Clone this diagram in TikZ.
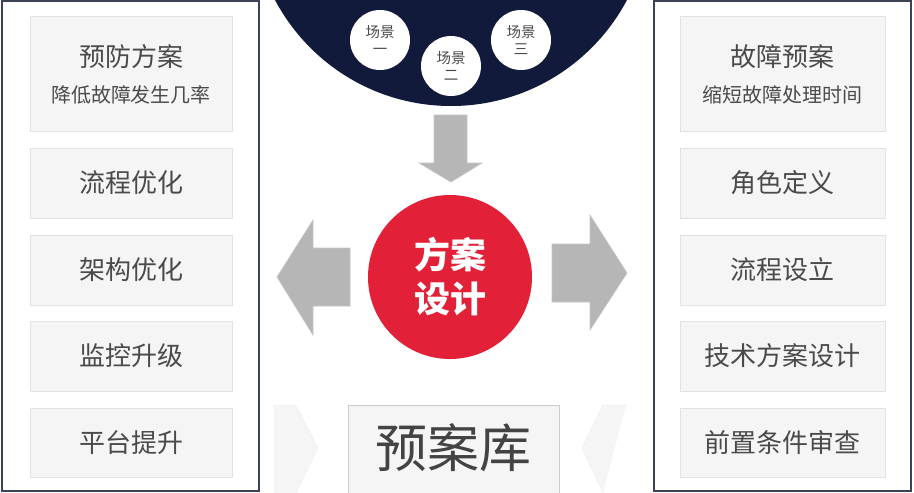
\documentclass[tikz,border=0pt]{standalone}
\usepackage{fontspec}
\newfontfamily\cjk{Noto Sans CJK SC}
\usetikzlibrary{positioning}
\definecolor{navy}{HTML}{111A3A}
\definecolor{framec}{HTML}{3C4358}
\definecolor{redc}{HTML}{E22037}
\definecolor{arrowc}{HTML}{B5B6B5}
\definecolor{boxfill}{HTML}{F5F5F5}
\definecolor{boxline}{HTML}{E2E2E2}
\definecolor{txtc}{HTML}{4A4A4A}
\tikzset{
  frame/.style={draw=framec, line width=1.6pt},
  itembox/.style={fill=boxfill, draw=boxline, line width=0.8pt, minimum width=#1, inner sep=0pt,
     text=txtc, font=\cjk\fontsize{26}{32}\selectfont, align=center},
  itembox/.default=202pt,
  scene/.style={circle, fill=white, minimum size=60pt, inner sep=0pt, text=txtc,
     font=\cjk\fontsize{14.5}{17}\selectfont, align=center},
  bigarrow/.style={fill=arrowc, draw=arrowc!80!white, line width=0.6pt},
  chev/.style={fill=boxfill, draw=boxline, line width=0.5pt, densely dotted}
}
\begin{document}
\begin{tikzpicture}[x=1pt,y=-1pt]
\useasboundingbox (0,0) rectangle (914,493);
\fill[white] (0,0) rectangle (914,493);
% frames
\draw[frame] (1.8,0.8) rectangle (259.2,491.2);
\draw[frame] (653.8,0.8) rectangle (911,491.2);
% left boxes
\node[itembox, minimum height=115pt] (l1) at (131,73.5) {};
\node[txtc, font=\cjk\fontsize{26}{32}\selectfont] (l1a) at (131,57) {预防方案};
\node[txtc, font=\cjk\fontsize{20}{24}\selectfont] (l1b) at (131,95) {降低故障发生几率};
\node[itembox, minimum height=70pt] (l2) at (131,183) {流程优化};
\node[itembox, minimum height=70pt] (l3) at (131,270) {架构优化};
\node[itembox, minimum height=70pt] (l4) at (131,356) {监控升级};
\node[itembox, minimum height=69pt] (l5) at (131,442.5) {平台提升};
% right boxes
\node[itembox=205pt, minimum height=115pt] (r1) at (782.5,73.5) {};
\node[txtc, font=\cjk\fontsize{26}{32}\selectfont] (r1a) at (782.5,57) {故障预案};
\node[txtc, font=\cjk\fontsize{20}{24}\selectfont] (r1b) at (782.5,95) {缩短故障处理时间};
\node[itembox=205pt, minimum height=70pt] (r2) at (782.5,183) {角色定义};
\node[itembox=205pt, minimum height=70pt] (r3) at (782.5,270) {流程设立};
\node[itembox=205pt, minimum height=70pt] (r4) at (782.5,356) {技术方案设计};
\node[itembox=205pt, minimum height=69pt] (r5) at (782.5,442.5) {前置条件审查};
% top navy bowl
\begin{scope}
\clip (270,0) rectangle (640,130);
\fill[navy] (451,-93) circle (199);
\end{scope}
\node[scene] (s1) at (380,40) {场景\\一};
\node[scene] (s2) at (451,66) {场景\\二};
\node[scene] (s3) at (521,40) {场景\\三};
% down arrow
\path[bigarrow] (434,115) -- (467,115) -- (467,163) -- (482,163) -- (451,182) -- (419,163) -- (434,163) -- cycle;
% red circle
\node[circle, fill=redc, minimum size=164pt, inner sep=0pt, text=white,
  font=\cjk\bfseries\fontsize{36}{44}\selectfont, align=center] (c) at (450,277) {方案\\设计};
% left / right arrows
\path[bigarrow] (277,277) -- (313,220) -- (313,248) -- (350,248) -- (350,306) -- (313,306) -- (313,335) -- cycle;
\path[bigarrow] (627,273) -- (590,215) -- (590,244) -- (552,244) -- (552,302) -- (590,302) -- (590,330) -- cycle;
% bottom
\path[chev] (274,493) -- (274,405) -- (296,405) -- (318,448) -- (296,493);
\path[chev] (626,405) -- (603,405) -- (582,448) -- (603,493);
\node[fill=boxfill, draw=boxline!90!black, line width=0.8pt, minimum width=211pt, minimum height=95pt,
  anchor=north west, inner sep=0pt] (lib) at (348,405) {};
\node[text=txtc!90!black, font=\cjk\fontsize{52}{60}\selectfont] (libt) at (453.5,448) {预案库};
\end{tikzpicture}
\end{document}
